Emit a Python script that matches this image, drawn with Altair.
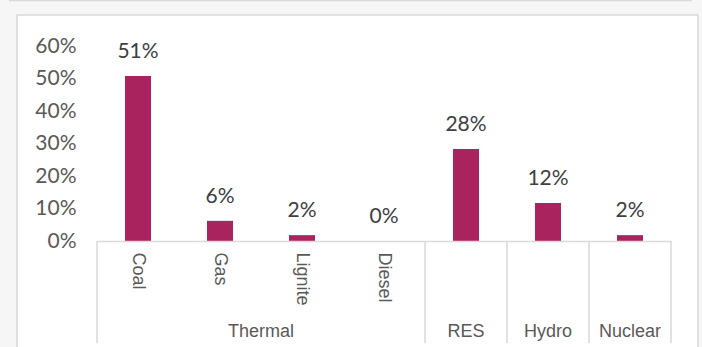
import altair as alt
import pandas as pd

categories = ["Coal", "Gas", "Lignite", "Diesel", "RES", "Hydro", "Nuclear"]
groups = ["Thermal", "Thermal", "Thermal", "Thermal", "RES", "Hydro", "Nuclear"]
shares = [0.508, 0.062, 0.018, 0.0, 0.283, 0.117, 0.018]

group_names = ["Thermal", "RES", "Hydro", "Nuclear"]
group_first = ["Coal", "RES", "Hydro", "Nuclear"]

y_ticks = [0, 0.1, 0.2, 0.3, 0.4, 0.5, 0.6]

df = pd.DataFrame({"cat": categories, "grp": groups, "share": shares})
sep_df = pd.DataFrame({"cat": group_first})
thermal_df = pd.DataFrame({"cat": ["Lignite"], "label": ["Thermal"]})
single_df = pd.DataFrame({"cat": group_names[1:], "label": group_names[1:]})
box_df = pd.DataFrame({"k": [0]})

BAR = "#A9245E"
AXIS_GRAY = "#D9D9D9"
LABEL_GRAY = "#595959"
NUM_FONT = "Lato"
CAT_FONT = "Liberation Sans"

xscale = alt.Scale(domain=categories, paddingInner=0, paddingOuter=0)
yscale = alt.Scale(domain=[0, 0.6], nice=False)

x_axis = alt.Axis(
    title=None, labelAngle=90, labelAlign="left", labelBaseline="middle",
    labelPadding=11, labelFont=CAT_FONT, labelFontSize=18, labelColor=LABEL_GRAY,
    labelExpr="indexof(['RES','Hydro','Nuclear'], datum.value) >= 0 ? '' : datum.value",
    labelOverlap=False,
    ticks=False, domainColor=AXIS_GRAY, domainWidth=1.5, zindex=1,
)
y_axis = alt.Axis(
    title=None, values=y_ticks, format=".0%", grid=False, domain=False, ticks=False,
    labelFont=NUM_FONT, labelFontSize=21, labelColor=LABEL_GRAY, labelPadding=21,
    labelOverlap=False, labelBound=False, tickCount=7, zindex=1,
)

box = alt.Chart(box_df).mark_rect(fill="white", stroke=AXIS_GRAY, strokeWidth=1.5).encode(
    x=alt.value(-80), x2=alt.value(601), y=alt.value(-31), y2=alt.value(400)
)
topline = alt.Chart(box_df).mark_rule(color=AXIS_GRAY, strokeWidth=1.5).encode(
    x=alt.value(-88), x2=alt.value(595), y=alt.value(-45.5)
)

bars = alt.Chart(df).mark_bar(color=BAR, size=26).encode(
    x=alt.X("cat:N", sort=categories, scale=xscale, axis=x_axis),
    y=alt.Y("share:Q", scale=yscale, axis=y_axis),
)

labels = alt.Chart(df).mark_text(
    font=NUM_FONT, fontSize=21, color="#404040", baseline="alphabetic", dy=-18
).encode(
    x=alt.X("cat:N", sort=categories, scale=xscale, axis=x_axis),
    y=alt.Y("share:Q", scale=yscale, axis=y_axis),
    text=alt.Text("share:Q", format=".0%"),
)

seps = alt.Chart(sep_df).mark_rule(color=AXIS_GRAY, strokeWidth=1.5).encode(
    x=alt.X("cat:N", sort=categories, scale=xscale, axis=x_axis, bandPosition=0),
    y=alt.value(195), y2=alt.value(297),
)
sep_end = alt.Chart(pd.DataFrame({"cat": ["Nuclear"]})).mark_rule(color=AXIS_GRAY, strokeWidth=1.5).encode(
    x=alt.X("cat:N", sort=categories, scale=xscale, axis=x_axis, bandPosition=1),
    y=alt.value(195), y2=alt.value(297),
)

thermal_lbl = alt.Chart(thermal_df).mark_text(
    font=CAT_FONT, fontSize=18, color=LABEL_GRAY, baseline="alphabetic"
).encode(
    x=alt.X("cat:N", sort=categories, scale=xscale, axis=x_axis, bandPosition=0),
    y=alt.value(291), text="label:N",
)
single_lbl = alt.Chart(single_df).mark_text(
    font=CAT_FONT, fontSize=18, color=LABEL_GRAY, baseline="alphabetic"
).encode(
    x=alt.X("cat:N", sort=categories, scale=xscale, axis=x_axis, bandPosition=0.5),
    y=alt.value(291), text="label:N",
)

chart = alt.layer(
    box, topline, bars, labels, seps, sep_end, thermal_lbl, single_lbl
).properties(
    width=574, height=195,
    autosize=alt.AutoSizeParams(type="none"),
    padding={"left": 97, "top": 46, "right": 31, "bottom": 106},
    background="#F6F6F6",
).configure_view(stroke=None)

chart.save("out.html", embed_options={"renderer": "svg", "actions": False})
